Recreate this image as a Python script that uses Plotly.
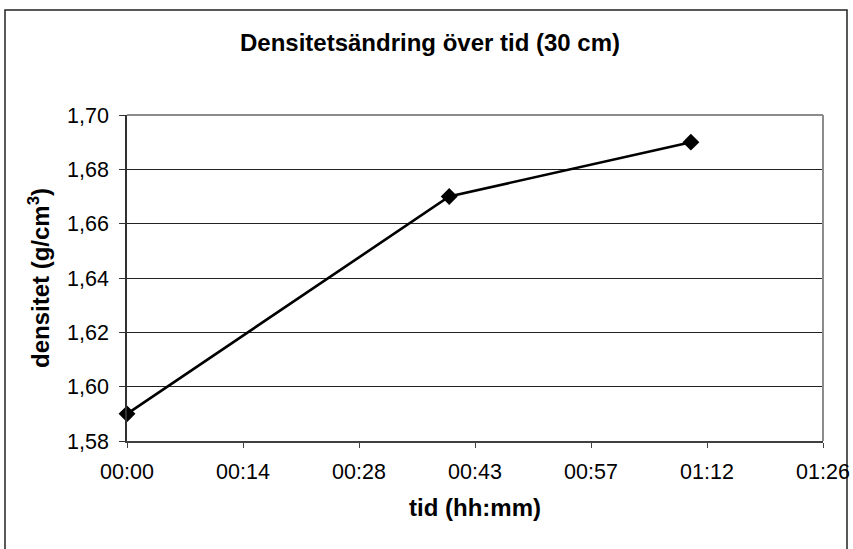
import plotly.graph_objects as go

# Data
minutes = [0, 40, 70]
density = [1.59, 1.67, 1.69]
x_tickvals = [0, 14.4, 28.8, 43.2, 57.6, 72.0, 86.4]
x_ticktext = ["00:00", "00:14", "00:28", "00:43", "00:57", "01:12", "01:26"]
y_tickvals = [1.58, 1.60, 1.62, 1.64, 1.66, 1.68, 1.70]

title_text = "<b>Densitetsändring över tid (30 cm)</b>"
x_title = "<b>tid (hh:mm)</b>"
y_title = "<b>densitet (g/cm<sup>3</sup>)</b>"

FONT = "Liberation Sans, Arial, sans-serif"

fig = go.Figure()
fig.add_trace(go.Scatter(
    x=minutes, y=density, mode="lines+markers",
    line=dict(color="black", width=2.6),
    marker=dict(symbol="diamond", size=13, color="black"),
    cliponaxis=False, showlegend=False,
))

W, H = 853, 549
ml, mr, mt, mb = 127, 30, 115, 108
pw = W - ml - mr
ph = H - mt - mb

def px2x(px):
    return (px - ml) / pw

def py2y(py):
    return (H - mb - py) / ph

fig.update_layout(
    width=W, height=H,
    margin=dict(l=ml, r=mr, t=mt, b=mb),
    paper_bgcolor="white", plot_bgcolor="white",
    separators=", ",
    font=dict(family=FONT, size=21, color="black"),
    title=dict(text=title_text, x=430 / W, xanchor="center", xref="container",
               y=1 - 42.5 / H, yanchor="middle", yref="container",
               font=dict(size=24, family=FONT, color="black")),
    xaxis=dict(
        range=[0, 86.4], tickvals=x_tickvals, ticktext=x_ticktext,
        showgrid=False, zeroline=False, automargin=False,
        showline=True, linecolor="#404040", linewidth=1.5,
        ticks="outside", ticklen=5, tickcolor="#404040", tickwidth=1,
        tickfont=dict(size=21.5), ticklabelstandoff=5,
        title=dict(text=x_title, font=dict(size=24), standoff=17),
    ),
    yaxis=dict(
        range=[1.58, 1.70], tickvals=y_tickvals, tickformat=".2f",
        showgrid=True, gridcolor="#222222", gridwidth=1, zeroline=False,
        automargin=False,
        showline=True, linecolor="#303030", linewidth=1.5,
        ticks="outside", ticklen=6, tickcolor="#303030", tickwidth=1,
        tickfont=dict(size=21.5), ticklabelstandoff=6,
        title=dict(text=y_title, font=dict(size=24), standoff=11),
    ),
    shapes=[
        # plot area border (top/right, gray)
        dict(type="line", xref="paper", yref="paper", x0=0, x1=1, y0=1, y1=1,
             line=dict(color="#8c8c8c", width=2), layer="above"),
        dict(type="line", xref="paper", yref="paper", x0=1, x1=1, y0=0, y1=1,
             line=dict(color="#8c8c8c", width=2), layer="above"),
        # outer chart border
        dict(type="rect", xref="paper", yref="paper",
             x0=px2x(5), x1=px2x(847), y0=py2y(555), y1=py2y(10),
             line=dict(color="#222222", width=1.5), layer="below"),
    ],
)

fig.write_html("out.html")
